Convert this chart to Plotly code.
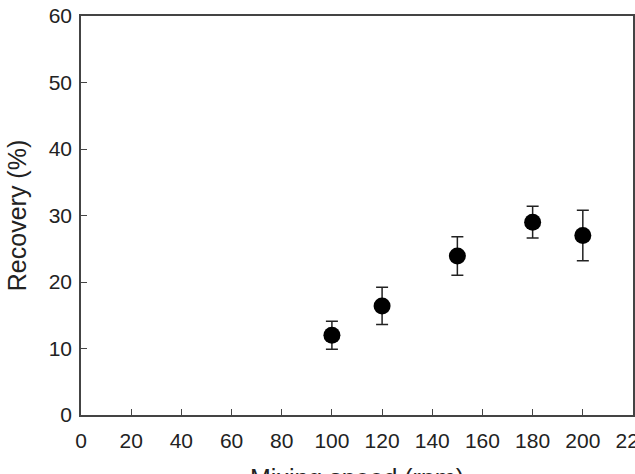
import plotly.graph_objects as go

mixing_speed = [100, 120, 150, 180, 200]
recovery = [12.0, 16.4, 23.9, 29.0, 27.0]
recovery_err = [2.1, 2.8, 2.9, 2.4, 3.8]

x_ticks = list(range(0, 221, 20))
y_ticks = list(range(0, 61, 10))

fig = go.Figure()
fig.add_trace(go.Scatter(
    x=mixing_speed, y=recovery, mode="markers",
    marker=dict(color="black", size=17),
    error_y=dict(type="data", array=recovery_err, visible=True,
                 color="#222", thickness=1.5, width=6),
    showlegend=False,
))

axis_common = dict(
    showgrid=False, zeroline=False, showline=True, mirror=True,
    linecolor="#444", linewidth=1.5,
    ticks="inside", ticklen=6, tickwidth=1, tickcolor="#444",
    tickfont=dict(family="Liberation Sans, Arial", size=21, color="#222"),
    ticklabeloverflow="allow",
    automargin=False,
)

fig.update_layout(
    width=635, height=474,
    margin=dict(l=81, r=2, t=16, b=59),
    paper_bgcolor="white", plot_bgcolor="white",
    xaxis=dict(range=[0, 220], tickvals=x_ticks, ticktext=[str(v) for v in x_ticks],
               ticklabelstandoff=6, **axis_common),
    yaxis=dict(range=[0, 60], tickvals=y_ticks, ticktext=[str(v) for v in y_ticks],
               ticklabelstandoff=3,
               title=dict(text="Recovery (%)",
                          font=dict(family="Liberation Sans, Arial", size=25, color="#222")),
               **axis_common),
    annotations=[dict(
        text="Mixing speed (rpm)", xref="paper", yref="paper", x=0.5, y=0,
        xanchor="center", yanchor="top", yshift=-47, showarrow=False,
        font=dict(family="Liberation Sans, Arial", size=25, color="#222"),
    )],
)

fig.write_html("out.html")
